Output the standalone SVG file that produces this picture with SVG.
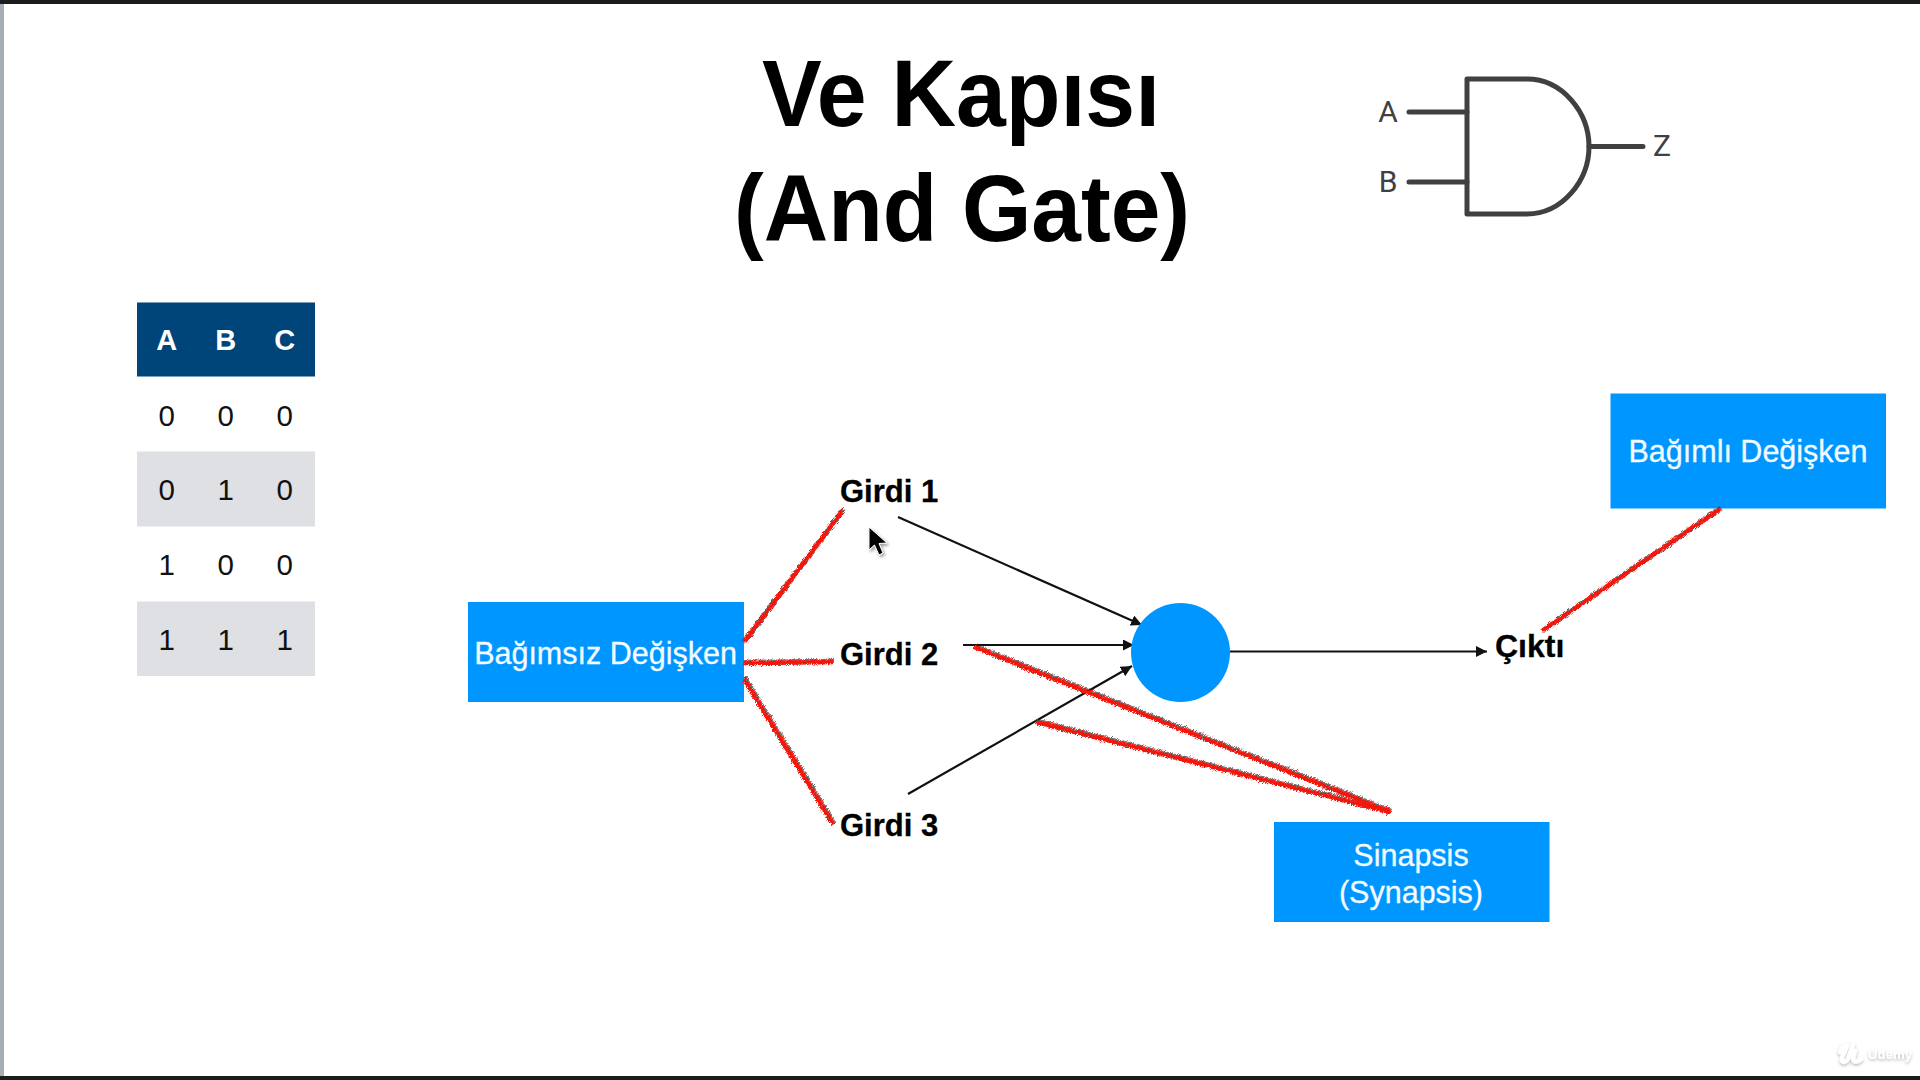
<svg xmlns="http://www.w3.org/2000/svg" width="1920" height="1080" viewBox="0 0 1920 1080">
<style>
text{font-family:"Liberation Sans",Arial,sans-serif}
.title{font-size:95px;font-weight:700;fill:#000;text-anchor:middle}
.gl{font-family:Roboto,"Noto Sans",sans-serif;font-size:30px;fill:#404040;text-anchor:middle}
.gate{fill:none;stroke:#404040;stroke-width:5;stroke-linecap:round;stroke-linejoin:round}
.th{font-size:29px;font-weight:700;fill:#fff;text-anchor:middle}
.td{font-size:29.500px;fill:#111;text-anchor:middle}
.box{fill:#0096ff}
.bt{font-size:30.500px;fill:#f4fbff;stroke:#f4fbff;stroke-width:.3;text-anchor:middle}
.lab{font-size:31px;font-weight:700;fill:#000;stroke:#000;stroke-width:.3}
.conn{stroke:#111;stroke-width:2.2;fill:none;marker-end:url(#ah)}
.red{stroke:#f2190c;stroke-width:4.500;fill:none;stroke-linecap:butt}
</style>
<defs>
<marker id="ah" markerUnits="userSpaceOnUse" markerWidth="14" markerHeight="12" refX="11" refY="5.500" orient="auto"><path d="M0 0L11 5.500L0 11Z" fill="#111"/></marker>
<filter id="rough" x="-5%" y="-5%" width="110%" height="110%">
<feTurbulence type="fractalNoise" baseFrequency="0.8" numOctaves="2" seed="4" result="n"/>
<feDisplacementMap in="SourceGraphic" in2="n" scale="6" xChannelSelector="R" yChannelSelector="G" result="d"/>
<feDropShadow in="d" dx="1" dy="-1" stdDeviation="0.7" flood-color="#222" flood-opacity="0.6"/>
</filter>
<filter id="sh" x="-50%" y="-50%" width="200%" height="200%"><feDropShadow dx="1.500" dy="2" stdDeviation="1.400" flood-color="#000" flood-opacity="0.4"/></filter>
<filter id="wm" x="-30%" y="-30%" width="160%" height="160%"><feDropShadow dx="0" dy="1.500" stdDeviation="1.500" flood-color="#000" flood-opacity="0.3"/></filter>
</defs>
<rect width="1920" height="1080" fill="#fff"/>
<rect x="0" y="0" width="4" height="1080" fill="#a7adb5"/>
<rect x="0" y="0" width="1920" height="4" fill="#1b1c1e"/>
<rect x="0" y="1076" width="1920" height="4" fill="#1b1c1e"/>

<g id="title">
<text class="title" x="961" y="126" textLength="398" lengthAdjust="spacingAndGlyphs">Ve Kapısı</text>
<text class="title" x="962" y="241" textLength="456" lengthAdjust="spacingAndGlyphs">(And Gate)</text>
</g>

<g id="and-gate">
<path class="gate" d="M1467 79H1527C1562 79 1589 112 1589 146.500C1589 181 1562 214 1527 214H1467Z"/>
<path class="gate" d="M1409 112H1467M1409 182H1467M1589 146.500H1643"/>
<text class="gl" x="1388" y="122">A</text>
<text class="gl" x="1388" y="192">B</text>
<text class="gl" x="1662" y="156">Z</text>
</g>

<g id="truth-table">
<rect x="137" y="302.500" width="178" height="74" fill="#00457a"/>
<rect x="137" y="451.500" width="178" height="75" fill="#dfe0e4"/>
<rect x="137" y="601.500" width="178" height="74.500" fill="#dfe0e4"/>
<text class="th" x="166.700" y="350">A</text><text class="th" x="225.700" y="350">B</text><text class="th" x="284.700" y="350">C</text>
<text class="td" x="166.700" y="425.500">0</text><text class="td" x="225.700" y="425.500">0</text><text class="td" x="284.700" y="425.500">0</text>
<text class="td" x="166.700" y="500">0</text><text class="td" x="225.700" y="500">1</text><text class="td" x="284.700" y="500">0</text>
<text class="td" x="166.700" y="575">1</text><text class="td" x="225.700" y="575">0</text><text class="td" x="284.700" y="575">0</text>
<text class="td" x="166.700" y="649.500">1</text><text class="td" x="225.700" y="649.500">1</text><text class="td" x="284.700" y="649.500">1</text>
</g>

<g id="connectors">
<line class="conn" x1="898" y1="517" x2="1142" y2="625"/>
<line class="conn" x1="963" y1="645" x2="1134" y2="645"/>
<line class="conn" x1="908" y1="794" x2="1132" y2="666"/>
<line class="conn" x1="1230" y1="651.500" x2="1487" y2="651.500"/>
</g>

<g id="node-bagimsiz"><rect class="box" x="468" y="602" width="276" height="100"/><text class="bt" x="605.500" y="664">Bağımsız Değişken</text></g>
<g id="node-girdi1"><text class="lab" x="840" y="502">Girdi 1</text></g>
<g id="node-girdi2"><text class="lab" x="840" y="665">Girdi 2</text></g>
<g id="node-girdi3"><text class="lab" x="840" y="836">Girdi 3</text></g>
<g id="node-neuron"><circle cx="1180.500" cy="652.500" r="49.500" fill="#0096ff"/></g>
<g id="node-cikti"><text class="lab" x="1495" y="657" style="font-size:32px">Çıktı</text></g>
<g id="node-bagimli"><rect class="box" x="1610.500" y="393.500" width="275.500" height="115"/><text class="bt" x="1748" y="462">Bağımlı Değişken</text></g>
<g id="node-sinapsis"><rect class="box" x="1274" y="822" width="275.500" height="100"/><text class="bt" x="1411" y="866">Sinapsis</text><text class="bt" x="1411" y="903">(Synapsis)</text></g>

<g id="annotations" filter="url(#rough)">
<line class="red" x1="744" y1="642" x2="843" y2="510"/>
<line class="red" x1="744" y1="663" x2="833" y2="662"/>
<line class="red" x1="744" y1="679" x2="833" y2="824"/>
<line class="red" x1="974" y1="647" x2="1390" y2="812"/>
<line class="red" x1="1036" y1="722" x2="1390" y2="812"/>
<line class="red" x1="1542" y1="631" x2="1720" y2="509"/>
</g>

<path id="cursor" d="M869 527V550L874.500 545L879 555L883 553L879 543.500L887 543Z" fill="#000" stroke="#fff" stroke-width="1" filter="url(#sh)"/>

<g id="watermark" filter="url(#wm)">
<path d="M1840 1052C1842 1046 1846 1044 1847 1046L1842 1058C1841 1063 1845 1063 1848 1059L1853 1045M1855 1051L1853 1058C1853 1062 1857 1063 1861 1059" fill="none" stroke="#fff" stroke-width="4.500" stroke-linecap="round"/>
<text x="1868" y="1059" font-size="13.500" font-weight="700" fill="#fff" textLength="44" lengthAdjust="spacingAndGlyphs">Udemy</text>
</g>
</svg>
